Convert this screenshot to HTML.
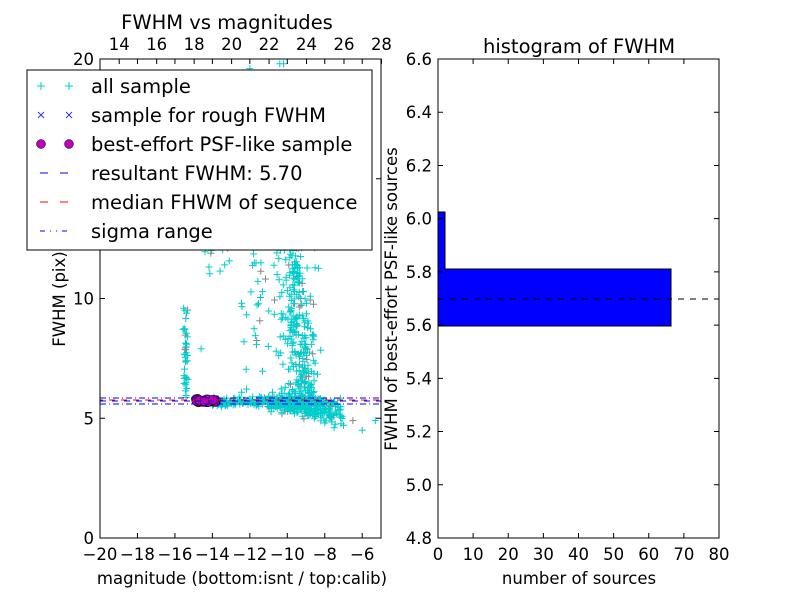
<!DOCTYPE html>
<html><head><meta charset="utf-8"><style>
body{margin:0;background:#fff}
svg{font-family:"DejaVu Sans","Liberation Sans",sans-serif}
</style></head><body>
<svg id="s" width="800" height="600" xmlns="http://www.w3.org/2000/svg">
<rect width="800" height="600" fill="#fff"/>
<g id="pts"></g>
<line x1="100" y1="401" x2="381" y2="401" stroke="#00f" stroke-width="1" stroke-dasharray="6,6"/>
<line x1="100" y1="400" x2="381" y2="400" stroke="#f00" stroke-width="1" stroke-dasharray="6,6" stroke-dashoffset="3"/>
<line x1="100" y1="398" x2="381" y2="398" stroke="#00f" stroke-width="1" stroke-dasharray="6,3,1,3"/>
<line x1="100" y1="404" x2="381" y2="404" stroke="#00f" stroke-width="1" stroke-dasharray="6,3,1,3"/>
<rect x="100" y="59" width="281" height="479" fill="none" stroke="#000"/>
<g id="lt" font-size="16.5" fill="#000"></g>
<text x="227" y="29" font-size="19.5" text-anchor="middle">FWHM vs magnitudes</text>
<text x="242" y="584" font-size="16.5" text-anchor="middle">magnitude (bottom:isnt / top:calib)</text>
<text transform="translate(65,299) rotate(-90)" font-size="16.5" text-anchor="middle">FWHM (pix)</text>
<rect x="27" y="70" width="345" height="180" fill="#fff" stroke="#000"/>
<g font-size="19.5">
<text x="91" y="93">all sample</text>
<text x="91" y="122">sample for rough FWHM</text>
<text x="91" y="151">best-effort PSF-like sample</text>
<text x="91" y="180">resultant FWHM: 5.70</text>
<text x="91" y="209">median FHWM of sequence</text>
<text x="91" y="238">sigma range</text>
</g>
<g stroke="#0cc" stroke-width="1"><path d="M37 86h8M41 82v8M65 86h8M69 82v8"/></g>
<g stroke="#33f" stroke-width="1"><path d="M38 112l6 6M44 112l-6 6M66 112l6 6M72 112l-6 6"/></g>
<circle cx="41" cy="144" r="4.5" fill="#b0b" stroke="#000" stroke-width="0.5"/>
<circle cx="69" cy="144" r="4.5" fill="#b0b" stroke="#000" stroke-width="0.5"/>
<path d="M40 173h8M60 173h8" stroke="#00f"/>
<path d="M40 202h8M60 202h8" stroke="#f00"/>
<path d="M40 231h5M50 231h1M56 231h1M62 231h5" stroke="#00f"/>
<path d="M438 326H671V269H445V212H438Z" fill="#00f" stroke="#000"/>
<line x1="438" y1="299" x2="719" y2="299" stroke="#000" stroke-dasharray="6,6"/>
<rect x="438" y="59" width="281" height="479" fill="none" stroke="#000"/>
<g id="rt" font-size="16.5"></g>
<text x="579" y="53" font-size="19.5" text-anchor="middle">histogram of FWHM</text>
<text x="579" y="584" font-size="16.5" text-anchor="middle">number of sources</text>
<text transform="translate(397,299) rotate(-90)" font-size="16.5" text-anchor="middle">FWHM of best-effort PSF-like sources</text>
</svg>
<script>
var NS="http://www.w3.org/2000/svg";
function el(p,t,a,txt){var e=document.createElementNS(NS,t);for(var k in a)e.setAttribute(k,a[k]);if(txt!=null)e.textContent=txt;p.appendChild(e);return e;}
var lt=document.getElementById('lt'),rt=document.getElementById('rt'),pts=document.getElementById('pts');
var tk="";
for(var v=-20;v<=-6;v+=2){var x=100+(v+20)*18.73;tk+="M"+x+" 538v-5M"+x+" 59v5";el(lt,'text',{x:x,y:560,'text-anchor':'middle'},(v<0?"\u2212":"")+Math.abs(v));}
for(var v=14;v<=28;v+=2){var x=100+(v-33+20)*18.73+0.5;tk+="M"+x+" 59v5";el(lt,'text',{x:x,y:50,'text-anchor':'middle'},v);}
for(var v=0;v<=20;v+=5){var y=538-v*23.95;tk+="M100 "+y+"h5M381 "+y+"h-5";el(lt,'text',{x:94,y:y+6,'text-anchor':'end'},v);}
for(var v=0;v<=80;v+=10){var x=438+v*3.5125;tk+="M"+x+" 538v-5M"+x+" 59v5";el(rt,'text',{x:x,y:560,'text-anchor':'middle'},v);}
for(var i=0;i<=9;i++){var v=4.8+i*0.2;var y=538-i*53.22;tk+="M438 "+y+"h5M719 "+y+"h-5";el(rt,'text',{x:432,y:y+6,'text-anchor':'end'},v.toFixed(1));}
el(document.getElementById('s'),'path',{d:tk,stroke:'#000','stroke-width':1,fill:'none'});
var seed=7;function r(){seed=(seed*16807)%2147483647;return (seed-1)/2147483646;}
function g(){return (r()+r()+r()-1.5)*1.4;}
var P=[];
function X(m){return 100+(m+20)*18.73;}function Y(f){return 538-f*23.95;}
for(var i=0;i<250;i++){var m=-14+r()*6;P.push([m,5.7+g()*0.12]);}
for(var i=0;i<200;i++){var m=-11+r()*4;P.push([m,5.6-r()*0.8*(m+11)/4+g()*0.25]);}
for(var i=0;i<450;i++){var f=5.5+Math.pow(r(),1.8)*14;var m=-9.2+g()*0.6-(f-5.5)*0.05;P.push([m,f]);}
for(var i=0;i<90;i++){var f=6+r()*9;P.push([-12.5+r()*3,f]);}
for(var i=0;i<40;i++){P.push([-15.4+g()*0.1,5.8+r()*3.8]);}
for(var i=0;i<35;i++){P.push([-14.5+r()*1.8,11+r()*2.5]);}
P.push([-12,19.6],[-10.4,19.8],[-10.2,19.8],[-14.6,7.9],[-5.3,4.9],[-6,4.5],[-6.5,4.9],[-7,4.7],[-7.5,4.6],[-8,4.8]);
var d="",dg="";
P.forEach(function(p,i){var x=X(p[0]),y=Y(p[1]);if(x<101||x>380||y<60||y>537)return;var s="M"+(x-3.5).toFixed(1)+" "+y.toFixed(1)+"h7M"+x.toFixed(1)+" "+(y-3.5).toFixed(1)+"v7";if(i%9==0)dg+=s;else d+=s;});
el(pts,'path',{d:dg,stroke:'#888','stroke-width':1});
el(pts,'path',{d:d,stroke:'#0cc','stroke-width':1});
for(var i=0;i<60;i++){var m=-14.9+r()*1.1;el(pts,'circle',{cx:X(m),cy:Y(5.72+g()*0.05),r:4.5,fill:'#b0b',stroke:'#000','stroke-width':0.5});}
</script>
</body></html>
